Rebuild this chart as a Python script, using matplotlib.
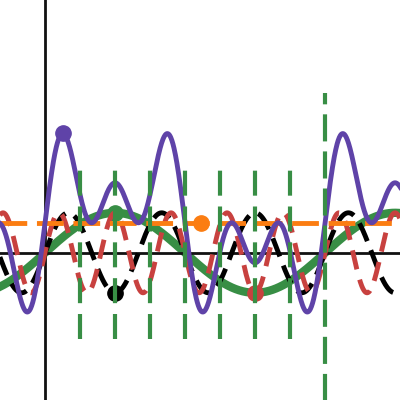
"""
Sine waves of different frequencies, their sum, and guide lines at multiples of pi/4.
"""
import matplotlib
matplotlib.use("Agg")
import matplotlib.pyplot as plt
import numpy as np

# curve parameters
freqs = [1, 3, 5]                 # green, black, red
sum_offset = 0.75                 # purple = sum of the three + offset
mean_level = 0.75                 # orange horizontal line
guide_x = [np.pi / 4 * k for k in range(1, 8)]
guide_span = [-2.15, 2.1]
tall_x = [2 * np.pi]
tall_span = [-4.0, 4.0]

# highlighted points
green_pt = [np.pi / 2, 1.0]
black_pt = [np.pi / 2, -1.0]
red_pt = [3 * np.pi / 2, -1.0]
purple_pt = [0.40, 3.0]
orange_pt = [3.5, 0.75]

GREEN, PURPLE, RED, ORANGE = "#388e45", "#5f43a8", "#c8413f", "#fb7d12"

x = np.linspace(-1.3, 8.3, 1200)
ys = [np.sin(f * x) for f in freqs]
y_sum = ys[0] + ys[1] + ys[2] + sum_offset

fig = plt.figure(figsize=(4, 4), dpi=100)
ax = fig.add_axes([0, 0, 1, 1])

ax.plot(x, ys[0], color=GREEN, lw=6, zorder=2)
ax.plot(*green_pt, "o", color=GREEN, ms=11, zorder=2)
ax.plot(x, ys[1], color="black", lw=3.5, dashes=(4, 2), zorder=3)
ax.plot(*black_pt, "o", color="black", ms=11, zorder=3)
ax.plot(x, ys[2], color=RED, lw=3.5, dashes=(4, 2.2), zorder=3)
ax.plot(*red_pt, "o", color=RED, ms=11, zorder=3)
ax.axhline(mean_level, color=ORANGE, lw=3.5, dashes=(5.5, 2), zorder=4)
ax.plot(*orange_pt, "o", color=ORANGE, ms=11, zorder=4)
ax.plot(x, y_sum, color=PURPLE, lw=3.5, zorder=5)
ax.plot(*purple_pt, "o", color=PURPLE, ms=11, zorder=5)

ax.vlines(guide_x, *guide_span, color=GREEN, lw=3, linestyles=(0, (6, 2.6)), zorder=6)
ax.vlines(tall_x, *tall_span, color=GREEN, lw=3, linestyles=(0, (6.5, 2.4)), zorder=6)

ax.set_xlim(-1.01, 7.965)
ax.set_ylim(-3.68, 6.32)
ax.spines["left"].set_position("zero")
ax.spines["bottom"].set_position("zero")
ax.spines["top"].set_visible(False)
ax.spines["right"].set_visible(False)
for s in ("left", "bottom"):
    ax.spines[s].set_linewidth(2)
    ax.spines[s].set_color("#111111")
ax.set_xticks([]); ax.set_yticks([])

fig.savefig("out.png", dpi=100)
